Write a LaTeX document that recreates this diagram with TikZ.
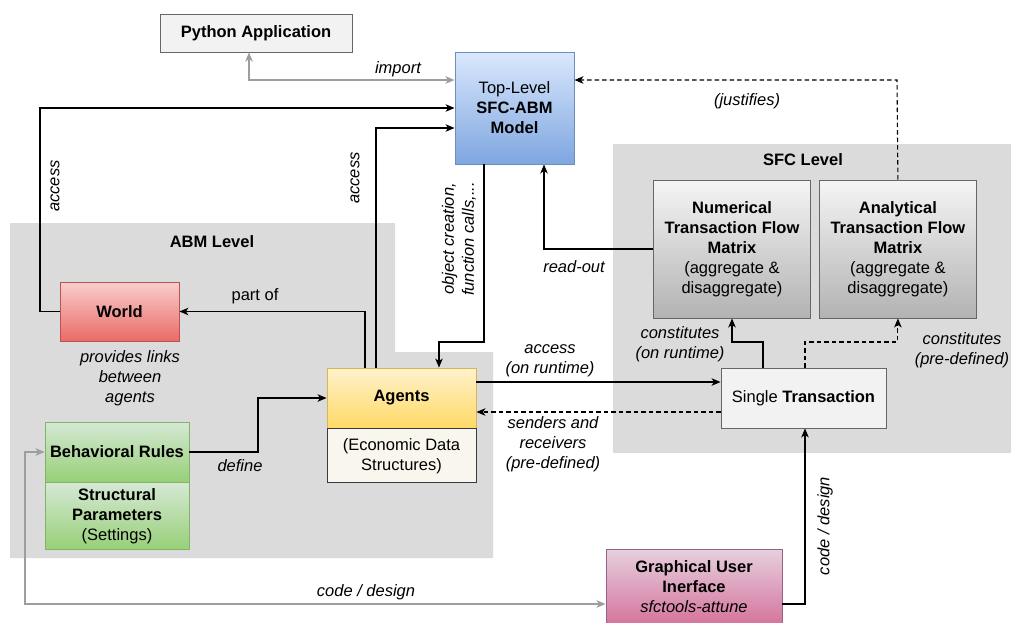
\documentclass[tikz,border=0pt]{standalone}
\usepackage{fontspec}
\setmainfont{Liberation Sans}
\usepackage{tikz}
\usetikzlibrary{arrows.meta,positioning}

\definecolor{grpfill}{HTML}{DBDBDB}
\definecolor{greyline}{HTML}{9E9E9E}
\definecolor{boxline}{HTML}{666666}

\begin{document}
\begin{tikzpicture}
[x=1pt, y=-1pt, font=\fontsize{16.5}{20}\selectfont,
>={Stealth[length=9pt,width=7.5pt,inset=2.5pt]},
% STYLES
every node/.style={inner sep=0pt, align=center},
% The group style is used for the grey level areas
group/.style={fill=grpfill, draw=none},
% The box style is used for every block of the model
box/.style={rectangle, draw=boxline, line width=0.9pt},
greybox/.style={box, fill=black!5},
tfmbox/.style={box, top color=black!4, bottom color=black!30, minimum width=157pt, minimum height=138pt},
bluebox/.style={box, draw={rgb,255:red,108;green,142;blue,191}, top color={rgb,255:red,218;green,232;blue,252}, bottom color={rgb,255:red,126;green,166;blue,224}},
redbox/.style={box, draw={rgb,255:red,184;green,84;blue,80}, top color={rgb,255:red,248;green,206;blue,204}, bottom color={rgb,255:red,234;green,107;blue,102}},
greenbox/.style={box, draw={rgb,255:red,130;green,179;blue,102}, top color={rgb,255:red,213;green,232;blue,212}, bottom color={rgb,255:red,151;green,208;blue,119}, minimum width=144pt},
yellowbox/.style={box, draw={rgb,255:red,214;green,182;blue,86}, top color={rgb,255:red,255;green,242;blue,204}, bottom color={rgb,255:red,255;green,217;blue,102}, minimum width=149pt},
pinkbox/.style={box, draw={rgb,255:red,153;green,97;blue,133}, top color={rgb,255:red,230;green,208;blue,222}, bottom color={rgb,255:red,213;green,115;blue,157}},
% The label style is used to write on the links
lbl/.style={font=\fontsize{16.5}{20}\selectfont\itshape},
link/.style={->, line width=1.1pt},
dashlink/.style={link, dash pattern=on 4.5pt off 3pt},
greylink/.style={<->, draw=greyline, line width=1.9pt}]

\useasboundingbox (0,0) rectangle (1011,622);

% Draw level areas
\fill[group] (10,223) -- (395,223) -- (395,352) -- (493,352) -- (493,558) -- (10,558) -- cycle;
\fill[group] (613,144) rectangle (1011,453);
\node[font=\fontsize{16.5}{20}\selectfont\bfseries] (abmlevel) at (212,242) {ABM Level};
\node[font=\fontsize{16.5}{20}\selectfont\bfseries] (sfclevel) at (803,160) {SFC Level};

% Draw blocks
\node[greybox, fill={rgb,255:red,242;green,242;blue,242}, minimum width=192pt, minimum height=38pt] (python) at (256,33) {\textbf{Python Application}};
\node[bluebox, minimum width=119pt, minimum height=112pt] (toplevel) at (514.5,108) {Top-Level\\\textbf{SFC-ABM}\\\textbf{Model}};
\node[redbox, minimum width=119pt, minimum height=59pt] (world) at (119.5,311.5) {\textbf{World}};
\node[greenbox, minimum height=60pt] (rules) at (117,452) {\textbf{Behavioral Rules}};
\node[greenbox, minimum height=67pt, below=0pt of rules] (params) {\textbf{Structural}\\\textbf{Parameters}\\(Settings)};
\node[yellowbox, minimum height=60pt] (agents) at (401.5,398) {\textbf{Agents}};
\node[box, draw={rgb,255:red,54;green,57;blue,61}, fill={rgb,255:red,249;green,247;blue,237}, minimum width=149pt, minimum height=54pt, below=0pt of agents] (econ) {(Economic Data\\Structures)};
\node[tfmbox] (numtfm) at (732,249) {\textbf{Numerical}\\\textbf{Transaction Flow}\\\textbf{Matrix}\\(aggregate \&\\disaggregate)};
\node[tfmbox, right=8pt of numtfm] (anatfm) {\textbf{Analytical}\\\textbf{Transaction Flow}\\\textbf{Matrix}\\(aggregate \&\\disaggregate)};
\node[greybox, minimum width=165pt, minimum height=60pt] (single) at (803.5,398) {Single \textbf{Transaction}};
\node[pinkbox, minimum width=176pt, minimum height=76pt] (gui) at (694,587) {\textbf{Graphical User}\\\textbf{Inerface}\\\textit{sfctools-attune}};

%%%%%%%%%%%%%%%
% Bend points of the links
\coordinate (imp) at (249,80);
\coordinate (accw) at (40,108);
\coordinate (acca) at (376,128);
\coordinate (part) at (365,311.5);
\coordinate (objc) at (484,342);
\coordinate (objd) at (439,342);
\coordinate (def) at (258,398);
\coordinate (cons1) at (763,342);
\coordinate (cons2) at (732,342);
\coordinate (cons3) at (805,342);
\coordinate (rdo) at (544,249);
\coordinate (just) at (897,80);
\coordinate (gd) at (805,604);
\coordinate (gl) at (25,604);

% Draw the links between blocks
\draw[greylink] (imp |- python.south) -- (imp) -- (imp -| toplevel.west);
\draw[link] (world.west) -| (accw) -- (accw -| toplevel.west);
\draw[link] (acca |- agents.north) -- (acca) -- (acca -| toplevel.west);
\draw[link] (part |- agents.north) -- (part) -- (world.east);
\draw[link] (objc |- toplevel.south) -- (objc) -- (objd) -- (objd |- agents.north);
\draw[link] (rules.east) -| (def) -- (agents.west);
\draw[link] ([yshift=16pt]agents.east) -- ([yshift=16pt]single.west);
\draw[dashlink] ([yshift=-14pt]single.west) -- ([yshift=-14pt]agents.east);
\draw[link] (cons1 |- single.north) -- (cons1) -- (cons2) -- (numtfm.south);
\draw[dashlink] (cons3 |- single.north) -- (cons3) -| (anatfm.south);
\draw[link] (numtfm.west) -- (rdo) -- (rdo |- toplevel.south);
\draw[dashlink] (anatfm.north) -- (just) -- (just -| toplevel.east);
\draw[link] (gui.east |- gd) -- (gd) -- (gd |- single.south);
\draw[greylink] (gui.west |- gl) -- (gl) |- (rules.west);

% Link labels
\node[lbl] (l-import) at (398,69) {import};
\node[lbl, rotate=90] (l-accw) at (55,186) {access};
\node[lbl, rotate=90] (l-acca) at (355,178) {access};
\node (l-part) at (255,296) {part of};
\node[lbl, rotate=90] (l-objc) at (459,239) {object creation,\\function calls,...};
\node[lbl] (l-world) at (130,378) {provides links\\between\\agents};
\node[lbl] (l-define) at (240,466) {define};
\node[lbl] (l-runtime) at (550,361) {access\\(on runtime)};
\node[lbl] (l-senders) at (553,444) {senders and\\receivers\\(pre-defined)};
\node[lbl] (l-cons1) at (680,344) {constitutes\\(on runtime)};
\node[lbl] (l-cons2) at (962,350) {constitutes\\(pre-defined)};
\node[lbl] (l-readout) at (574,267) {read-out};
\node[lbl] (l-justifies) at (747,101) {(justifies)};
\node[lbl, rotate=90] (l-gd) at (825,526) {code / design};
\node[lbl] (l-gl) at (366,592) {code / design};
%%%%%%%%%%%%%%%

\end{tikzpicture}
\end{document}
